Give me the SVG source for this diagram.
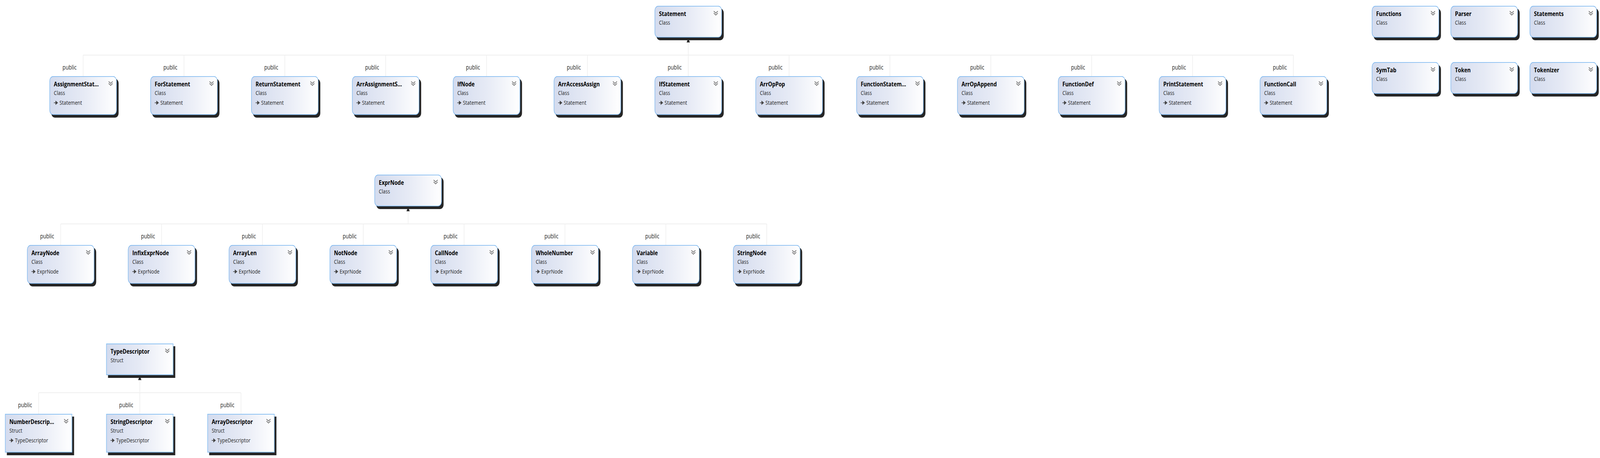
<svg xmlns="http://www.w3.org/2000/svg" xmlns:xlink="http://www.w3.org/1999/xlink" width="5140" height="1172" viewBox="0 0 5140 1172" preserveAspectRatio="none" style="width:100vw;height:100vh;display:block">
<style>
.t{font-family:"Open Sans","Noto Sans","Liberation Sans",sans-serif;font-weight:bold;font-size:16.5px;fill:#000}
.s{font-family:"Open Sans","Noto Sans","Liberation Sans",sans-serif;font-size:15px;fill:#1e1e1e}
.p{font-family:"Open Sans","Noto Sans","Liberation Sans",sans-serif;font-size:16px;fill:#1e1e1e;text-anchor:end}
.bus{fill:none;stroke:#efefef;stroke-width:2}
.head{fill:#222;stroke:#fff;stroke-width:1}
.chev{fill:none;stroke:#707070;stroke-width:2}
.ico{fill:#444;stroke:#444;stroke-width:1.6}
</style>
<defs>
<linearGradient id="g" x1="0" y1="0" x2="1" y2="0">
<stop offset="0" stop-color="#d3dbee"/>
<stop offset="0.5" stop-color="#e6eaf5"/>
<stop offset="1" stop-color="#ffffff"/>
</linearGradient>
<g id="chv"><path class="chev" d="M190,13.5 l6.5,5 l6.5,-5 M190,18.5 l6.5,5 l6.5,-5"/></g>
<g id="inh"><path class="ico" d="M14,68 H21"/><path class="ico" d="M20,64 L26,68 L20,72 Z"/></g>
<g id="cS"><rect x="6" y="7" width="216" height="81" rx="11" fill="#262626"/><rect x="0.75" y="0.75" width="214.5" height="79.5" rx="11" fill="url(#g)" stroke="#74b3ef" stroke-width="1.5"/><use xlink:href="#chv"/></g>
<g id="cT"><rect x="6" y="7" width="216" height="99" rx="11" fill="#262626"/><rect x="0.75" y="0.75" width="214.5" height="97.5" rx="11" fill="url(#g)" stroke="#74b3ef" stroke-width="1.5"/><use xlink:href="#chv"/><use xlink:href="#inh"/></g>
<g id="sS"><rect x="6" y="7" width="216" height="81" fill="#262626"/><rect x="1" y="1" width="214" height="79" fill="url(#g)" stroke="#8ec2f2" stroke-width="2"/><use xlink:href="#chv"/></g>
<g id="sT"><rect x="6" y="7" width="216" height="99" fill="#262626"/><rect x="1" y="1" width="214" height="97" fill="url(#g)" stroke="#8ec2f2" stroke-width="2"/><use xlink:href="#chv"/><use xlink:href="#inh"/></g>
</defs>
<rect width="5140" height="1172" fill="#ffffff"/>

<g id="connectors">
<path class="bus" d="M267,141 H4155 M2211,96 V141"/>
<path class="bus" d="M267,141 V195 M591,141 V195 M915,141 V195 M1239,141 V195 M1563,141 V195 M1887,141 V195 M2211,141 V195 M2535,141 V195 M2859,141 V195 M3183,141 V195 M3507,141 V195 M3831,141 V195 M4155,141 V195"/>
<path class="head" d="M2211,96 L2217,109 L2205,109 Z"/>
<path class="bus" d="M195,573 H2463 M1311,528 V573"/>
<path class="bus" d="M195,573 V627 M519,573 V627 M843,573 V627 M1167,573 V627 M1491,573 V627 M1815,573 V627 M2139,573 V627 M2463,573 V627"/>
<path class="head" d="M1311,528 L1317,541 L1305,541 Z"/>
<path class="bus" d="M124,1005 H774 M449,960 V1005"/>
<path class="bus" d="M124,1005 V1059 M449,1005 V1059 M774,1005 V1059"/>
<path class="head" d="M449,960 L455,973 L443,973 Z"/>
<g>
<text class="p" x="246" y="178">public</text>
<text class="p" x="570" y="178">public</text>
<text class="p" x="894" y="178">public</text>
<text class="p" x="1218" y="178">public</text>
<text class="p" x="1542" y="178">public</text>
<text class="p" x="1866" y="178">public</text>
<text class="p" x="2190" y="178">public</text>
<text class="p" x="2514" y="178">public</text>
<text class="p" x="2838" y="178">public</text>
<text class="p" x="3162" y="178">public</text>
<text class="p" x="3486" y="178">public</text>
<text class="p" x="3810" y="178">public</text>
<text class="p" x="4134" y="178">public</text>
<text class="p" x="174" y="610">public</text>
<text class="p" x="498" y="610">public</text>
<text class="p" x="822" y="610">public</text>
<text class="p" x="1146" y="610">public</text>
<text class="p" x="1470" y="610">public</text>
<text class="p" x="1794" y="610">public</text>
<text class="p" x="2118" y="610">public</text>
<text class="p" x="2442" y="610">public</text>
<text class="p" x="103" y="1042">public</text>
<text class="p" x="428" y="1042">public</text>
<text class="p" x="753" y="1042">public</text>
</g>
</g>

<g id="Statement" transform="translate(2103,15)"><use xlink:href="#cS"/><text class="t" x="14" y="26">Statement</text><text class="s" x="14" y="48">Class</text></g>
<g id="Functions" transform="translate(4407,15)"><use xlink:href="#cS"/><text class="t" x="14" y="26">Functions</text><text class="s" x="14" y="48">Class</text></g>
<g id="Parser" transform="translate(4660,15)"><use xlink:href="#cS"/><text class="t" x="14" y="26">Parser</text><text class="s" x="14" y="48">Class</text></g>
<g id="Statements" transform="translate(4914,15)"><use xlink:href="#cS"/><text class="t" x="14" y="26">Statements</text><text class="s" x="14" y="48">Class</text></g>
<g id="SymTab" transform="translate(4407,159)"><use xlink:href="#cS"/><text class="t" x="14" y="26">SymTab</text><text class="s" x="14" y="48">Class</text></g>
<g id="Token" transform="translate(4660,159)"><use xlink:href="#cS"/><text class="t" x="14" y="26">Token</text><text class="s" x="14" y="48">Class</text></g>
<g id="Tokenizer" transform="translate(4914,159)"><use xlink:href="#cS"/><text class="t" x="14" y="26">Tokenizer</text><text class="s" x="14" y="48">Class</text></g>

<g id="AssignmentStatement" transform="translate(159,195)"><use xlink:href="#cT"/><text class="t" x="14" y="26">AssignmentStat...</text><text class="s" x="14" y="48">Class</text><text class="s" x="32" y="73">Statement</text></g>
<g id="ForStatement" transform="translate(483,195)"><use xlink:href="#cT"/><text class="t" x="14" y="26">ForStatement</text><text class="s" x="14" y="48">Class</text><text class="s" x="32" y="73">Statement</text></g>
<g id="ReturnStatement" transform="translate(807,195)"><use xlink:href="#cT"/><text class="t" x="14" y="26">ReturnStatement</text><text class="s" x="14" y="48">Class</text><text class="s" x="32" y="73">Statement</text></g>
<g id="ArrAssignmentStatement" transform="translate(1131,195)"><use xlink:href="#cT"/><text class="t" x="14" y="26">ArrAssignmentS...</text><text class="s" x="14" y="48">Class</text><text class="s" x="32" y="73">Statement</text></g>
<g id="IfNode" transform="translate(1455,195)"><use xlink:href="#cT"/><text class="t" x="14" y="26">IfNode</text><text class="s" x="14" y="48">Class</text><text class="s" x="32" y="73">Statement</text></g>
<g id="ArrAccessAssign" transform="translate(1779,195)"><use xlink:href="#cT"/><text class="t" x="14" y="26">ArrAccessAssign</text><text class="s" x="14" y="48">Class</text><text class="s" x="32" y="73">Statement</text></g>
<g id="IfStatement" transform="translate(2103,195)"><use xlink:href="#cT"/><text class="t" x="14" y="26">IfStatement</text><text class="s" x="14" y="48">Class</text><text class="s" x="32" y="73">Statement</text></g>
<g id="ArrOpPop" transform="translate(2427,195)"><use xlink:href="#cT"/><text class="t" x="14" y="26">ArrOpPop</text><text class="s" x="14" y="48">Class</text><text class="s" x="32" y="73">Statement</text></g>
<g id="FunctionStatement" transform="translate(2751,195)"><use xlink:href="#cT"/><text class="t" x="14" y="26">FunctionStatem...</text><text class="s" x="14" y="48">Class</text><text class="s" x="32" y="73">Statement</text></g>
<g id="ArrOpAppend" transform="translate(3075,195)"><use xlink:href="#cT"/><text class="t" x="14" y="26">ArrOpAppend</text><text class="s" x="14" y="48">Class</text><text class="s" x="32" y="73">Statement</text></g>
<g id="FunctionDef" transform="translate(3399,195)"><use xlink:href="#cT"/><text class="t" x="14" y="26">FunctionDef</text><text class="s" x="14" y="48">Class</text><text class="s" x="32" y="73">Statement</text></g>
<g id="PrintStatement" transform="translate(3723,195)"><use xlink:href="#cT"/><text class="t" x="14" y="26">PrintStatement</text><text class="s" x="14" y="48">Class</text><text class="s" x="32" y="73">Statement</text></g>
<g id="FunctionCall" transform="translate(4047,195)"><use xlink:href="#cT"/><text class="t" x="14" y="26">FunctionCall</text><text class="s" x="14" y="48">Class</text><text class="s" x="32" y="73">Statement</text></g>

<g id="ExprNode" transform="translate(1203,447)"><use xlink:href="#cS"/><text class="t" x="14" y="26">ExprNode</text><text class="s" x="14" y="48">Class</text></g>
<g id="ArrayNode" transform="translate(87,627)"><use xlink:href="#cT"/><text class="t" x="14" y="26">ArrayNode</text><text class="s" x="14" y="48">Class</text><text class="s" x="32" y="73">ExprNode</text></g>
<g id="InfixExprNode" transform="translate(411,627)"><use xlink:href="#cT"/><text class="t" x="14" y="26">InfixExprNode</text><text class="s" x="14" y="48">Class</text><text class="s" x="32" y="73">ExprNode</text></g>
<g id="ArrayLen" transform="translate(735,627)"><use xlink:href="#cT"/><text class="t" x="14" y="26">ArrayLen</text><text class="s" x="14" y="48">Class</text><text class="s" x="32" y="73">ExprNode</text></g>
<g id="NotNode" transform="translate(1059,627)"><use xlink:href="#cT"/><text class="t" x="14" y="26">NotNode</text><text class="s" x="14" y="48">Class</text><text class="s" x="32" y="73">ExprNode</text></g>
<g id="CallNode" transform="translate(1383,627)"><use xlink:href="#cT"/><text class="t" x="14" y="26">CallNode</text><text class="s" x="14" y="48">Class</text><text class="s" x="32" y="73">ExprNode</text></g>
<g id="WholeNumber" transform="translate(1707,627)"><use xlink:href="#cT"/><text class="t" x="14" y="26">WholeNumber</text><text class="s" x="14" y="48">Class</text><text class="s" x="32" y="73">ExprNode</text></g>
<g id="Variable" transform="translate(2031,627)"><use xlink:href="#cT"/><text class="t" x="14" y="26">Variable</text><text class="s" x="14" y="48">Class</text><text class="s" x="32" y="73">ExprNode</text></g>
<g id="StringNode" transform="translate(2355,627)"><use xlink:href="#cT"/><text class="t" x="14" y="26">StringNode</text><text class="s" x="14" y="48">Class</text><text class="s" x="32" y="73">ExprNode</text></g>

<g id="TypeDescriptor" transform="translate(341,879)"><use xlink:href="#sS"/><text class="t" x="14" y="26">TypeDescriptor</text><text class="s" x="14" y="48">Struct</text></g>
<g id="NumberDescriptor" transform="translate(16,1059)"><use xlink:href="#sT"/><text class="t" x="14" y="26">NumberDescrip...</text><text class="s" x="14" y="48">Struct</text><text class="s" x="32" y="73">TypeDescriptor</text></g>
<g id="StringDescriptor" transform="translate(341,1059)"><use xlink:href="#sT"/><text class="t" x="14" y="26">StringDescriptor</text><text class="s" x="14" y="48">Struct</text><text class="s" x="32" y="73">TypeDescriptor</text></g>
<g id="ArrayDescriptor" transform="translate(666,1059)"><use xlink:href="#sT"/><text class="t" x="14" y="26">ArrayDescriptor</text><text class="s" x="14" y="48">Struct</text><text class="s" x="32" y="73">TypeDescriptor</text></g>
</svg>
